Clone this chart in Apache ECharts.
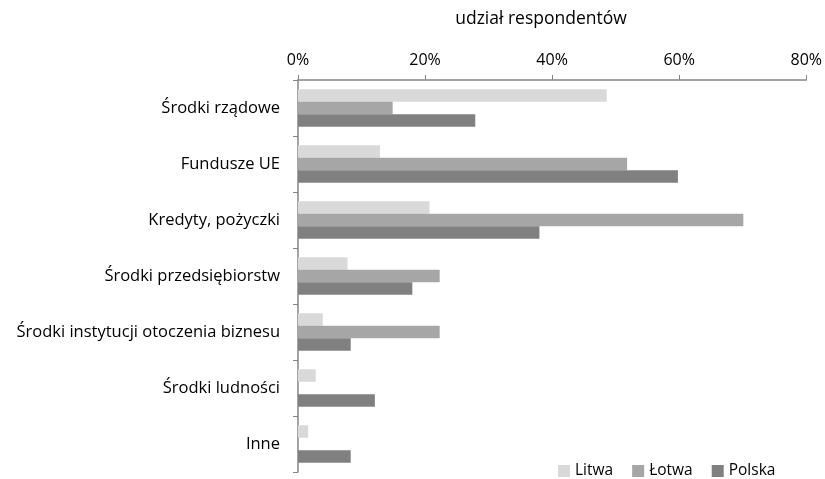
<!DOCTYPE html>
<html><head><meta charset="utf-8">
<script src="https://cdn.jsdelivr.net/npm/echarts@6/dist/echarts.min.js"></script>
<style>html,body{margin:0;padding:0;background:#fff}#c{width:825px;height:479px}</style>
</head><body><div id="c"></div>
<script>
const categories = ['Środki rządowe','Fundusze UE','Kredyty, pożyczki','Środki przedsiębiorstw','Środki instytucji otoczenia biznesu','Środki ludności','Inne'];
const litwa  = [48.6, 12.9, 20.7, 7.8, 3.9, 2.8, 1.6];
const lotwa  = [14.9, 51.8, 70.1, 22.3, 22.3, 0, 0];
const polska = [27.9, 59.8, 38.0, 18.0, 8.3, 12.1, 8.3];
const xTicks = [0, 20, 40, 60, 80];
const FONT = 'Open Sans';
const chart = echarts.init(document.getElementById('c'));
const mk = (name, data, color) => ({name, type:'bar', data, barGap:'0%', barCategoryGap:'33%', itemStyle:{color}, animation:false});
chart.setOption({
  animation:false,
  textStyle:{fontFamily:FONT},
  title:{text:'udział respondentów', left:'536', textAlign:'center', top:5, textStyle:{fontFamily:FONT, fontSize:17.5, fontWeight:'normal', color:'#000'}},
  legend:{data:['Litwa','Łotwa','Polska'], left:553, top:458, icon:'rect', itemWidth:12, itemHeight:12, itemGap:19,
    textStyle:{fontFamily:FONT, fontSize:15.5, color:'#000'}},
  grid:{left:298, right:17, top:80, bottom:7, containLabel:false},
  xAxis:{type:'value', position:'top', min:xTicks[0], max:xTicks[xTicks.length-1], interval:20,
    axisLine:{show:true, lineStyle:{color:'#868686', width:1.5}},
    axisTick:{show:true, length:5, lineStyle:{color:'#868686'}},
    splitLine:{show:false},
    axisLabel:{formatter:v=>v+'%', fontFamily:FONT, fontSize:16, color:'#000', margin:12}},
  yAxis:{type:'category', data:categories, inverse:true,
    axisLine:{show:true, lineStyle:{color:'#868686', width:1.5}},
    axisTick:{show:true, length:5, lineStyle:{color:'#868686'}},
    axisLabel:{fontFamily:FONT, fontSize:16.5, color:'#000', margin:18}},
  series:[mk('Litwa', litwa, '#d9d9d9'), mk('Łotwa', lotwa, '#a6a6a6'), mk('Polska', polska, '#808080')]
});
</script></body></html>
